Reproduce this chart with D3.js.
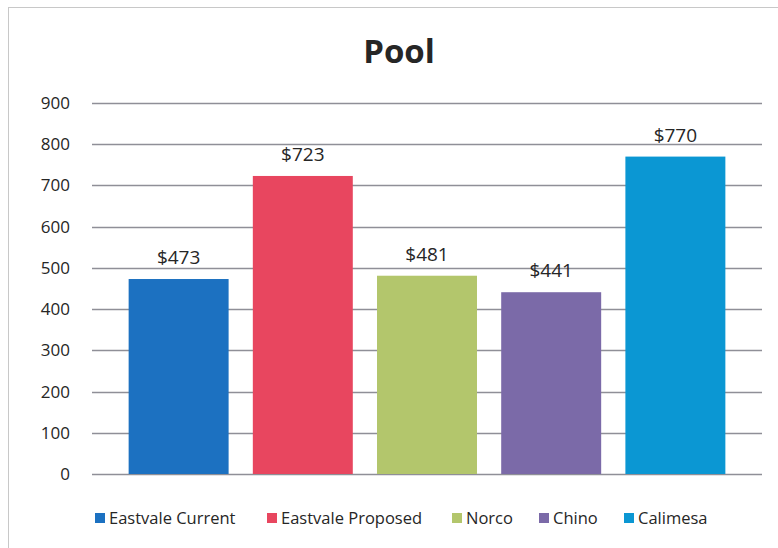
<!DOCTYPE html>
<html>
<head>
<meta charset="utf-8">
<script src="https://cdn.jsdelivr.net/npm/d3@7"></script>
<style>
  body { margin: 0; background: #fff; }
  text { font-family: "Open Sans", "Liberation Sans", Arial, sans-serif; fill: #262626; }
</style>
</head>
<body>
<svg id="chart" width="778" height="548"></svg>
<script>
// chart data
const categories = ["Eastvale Current", "Eastvale Proposed", "Norco", "Chino", "Calimesa"]
const values = [473, 723, 481, 441, 770]
const colors = ["#1c71c1", "#e8465f", "#b3c66c", "#7b6aa8", "#0b97d3"]
const yTicks = [0, 100, 200, 300, 400, 500, 600, 700, 800, 900]

const svg = d3.select("#chart")
const margin = { left: 92, right: 16, top: 103, bottom: 74 }
const width = 778, height = 548

// outer frame of the chart object
svg.append("rect")
    .attr("x", 8.5).attr("y", 7.5)
    .attr("width", 780).attr("height", 560)
    .attr("fill", "none")
    .attr("stroke", "#c8c8c8")

svg.append("text")
    .text("Pool")
    .attr("x", 399).attr("y", 63)
    .attr("text-anchor", "middle")
    .style("font-size", "33px")
    .style("font-weight", "bold")

const x = d3.scaleBand()
    .domain(categories)
    .range([margin.left, width - margin.right])
    .paddingInner(0.195)
    .paddingOuter(0.295)

const y = d3.scaleLinear()
    .domain([0, 900])
    .range([height - margin.bottom, margin.top])

// gridlines
svg.append("g")
    .selectAll("line")
    .data(yTicks)
    .enter()
    .append("line")
    .attr("x1", margin.left).attr("x2", width - margin.right)
    .attr("y1", d => Math.round(y(d)) + 0.5).attr("y2", d => Math.round(y(d)) + 0.5)
    .attr("stroke", "#8f8f97")
    .attr("stroke-width", 1.3)

// y axis labels (no axis line in the original)
const yAxis = svg.append("g")
    .attr("transform", "translate(" + margin.left + ",0)")
    .call(d3.axisLeft(y).tickValues(yTicks).tickSize(0).tickPadding(22))
yAxis.select(".domain").remove()
yAxis.selectAll("text")
    .style("font-size", "17px")
    .style("font-family", "\"Open Sans\", \"Liberation Sans\", Arial, sans-serif")
    .attr("fill", "#333")

// bars
svg.append("g")
    .selectAll("rect")
    .data(values)
    .enter()
    .append("rect")
    .attr("x", (d, i) => x(categories[i]))
    .attr("y", d => y(d))
    .attr("width", x.bandwidth())
    .attr("height", d => y(0) - y(d))
    .attr("fill", (d, i) => colors[i])

// value labels
svg.append("g")
    .selectAll("text")
    .data(values)
    .enter()
    .append("text")
    .text(d => "$" + d)
    .attr("x", (d, i) => x(categories[i]) + x.bandwidth() / 2)
    .attr("y", d => y(d) - 15)
    .attr("text-anchor", "middle")
    .style("font-size", "19px")

// legend
const legendX = [95, 267, 452, 539, 624]
const legend = svg.append("g")
    .selectAll("g")
    .data(categories)
    .enter()
    .append("g")
    .attr("transform", (d, i) => "translate(" + legendX[i] + ",518)")
legend.append("rect")
    .attr("x", 0).attr("y", -5)
    .attr("width", 10).attr("height", 10)
    .attr("fill", (d, i) => colors[i])
legend.append("text")
    .text(d => d)
    .attr("x", 14).attr("y", 6)
    .style("font-size", "16.5px")
</script>
</body>
</html>
